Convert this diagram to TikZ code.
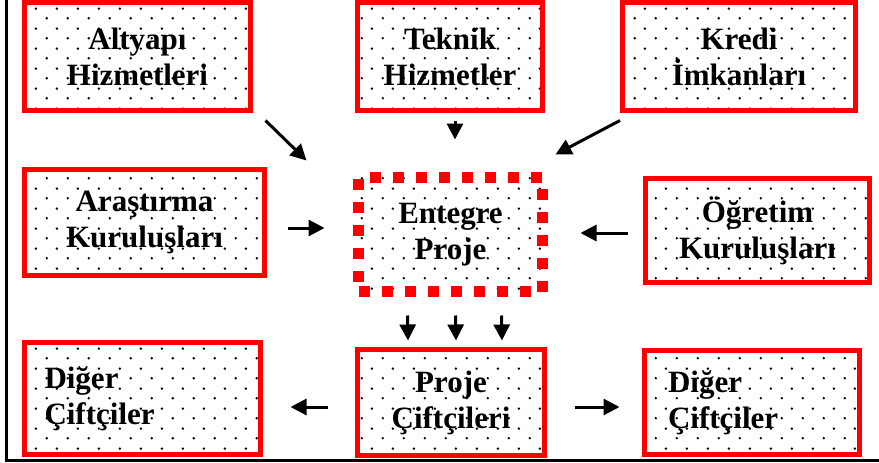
\documentclass[tikz,border=0pt]{standalone}
\usepackage{fontspec}
\setmainfont{Liberation Serif}
\usetikzlibrary{arrows.meta,patterns.meta}

\tikzdeclarepattern{
  name=boxdots,
  type=uncolored,
  bottom left={(0pt,0pt)},
  top right={(21pt,20pt)},
  tile size={(21pt,20pt)},
  code={
    \fill (5pt,5pt) circle (1.4pt);
    \fill (15.5pt,15pt) circle (1.4pt);
  }
}

\begin{document}
\begin{tikzpicture}[x=1pt,y=-1pt,->,>={Triangle[length=16pt,width=16pt]},line width=3pt,
		kutu/.style={rectangle,draw=red,line width=5pt,preaction={fill=white},pattern=boxdots,
			font=\bfseries\fontsize{31}{36}\selectfont,align=center,inner sep=0pt},
		kesik/.style={kutu,line width=11pt,dash pattern=on 11pt off 12pt}]
	\useasboundingbox (0,0) rectangle (879,463);

	\node[kutu,minimum width=226pt,minimum height=108pt] (alt) at (137.5,56.5) {Altyapı\\Hizmetleri};
	\node[kutu,minimum width=185pt,minimum height=108pt] (tek) at (450,56.5) {Teknik\\Hizmetler};
	\node[kutu,minimum width=233pt,minimum height=108pt] (kre) at (739,56.5) {Kredi\\İmkanları};
	\node[kutu,minimum width=240pt,minimum height=106pt] (ara) at (144.5,222.5) {Araştırma\\Kuruluşları};
	\node[kesik,minimum width=184pt,minimum height=114pt] (ent) at (450.5,234.5) {Entegre\\Proje};
	\node[kutu,minimum width=224pt,minimum height=104pt] (oeg) at (757.5,230.5) {Öğretim\\Kuruluşları};
	\node[kutu,minimum width=187pt,minimum height=106pt] (pc) at (451,402.5) {Proje\\Çiftçileri};
	\node[kutu,align=left,text width=196pt,inner xsep=20pt,minimum height=112pt] (dl) at (142.5,398.5) {Diğer\\Çiftçiler};
	\node[kutu,align=left,text width=168pt,inner xsep=23.5pt,minimum height=104pt] (dr) at (752,402.5) {Diğer\\Çiftçiler};

	% inputs into the project
	\draw ([shift={(12.5,7.5)}]alt.south east) -- ([shift={(-46.5,-11.5)}]ent.north west);
	\draw ([shift={(5,7.5)}]tek.south) -- ([shift={(4.5,-32.5)}]ent.north);
	\draw ([shift={(0,7.5)}]kre.south west) -- ([shift={(7.5,-17.5)}]ent.north east);
	\draw ([shift={(20.5,5.5)}]ara.east) -- ([shift={(-28.5,-6.5)}]ent.west);
	\draw ([shift={(-15.5,2.5)}]oeg.west) -- ([shift={(32.5,-1.5)}]ent.east);
	% down to the farmers
	\foreach \dx in {-43,5,51}
		\draw ([shift={(\dx,18.5)}]ent.south) -- ([shift={(\dx,-6.5)}]pc.north);
	\draw ([shift={(-27.5,4.5)}]pc.west) -- ([shift={(27.5,8.5)}]dl.east);
	\draw ([shift={(27.5,4.5)}]pc.east) -- ([shift={(-22.5,4.5)}]dr.west);

	\draw[-,line width=3pt] (6.5,0) -- (6.5,460.5) -- (879,460.5);
\end{tikzpicture}
\end{document}
